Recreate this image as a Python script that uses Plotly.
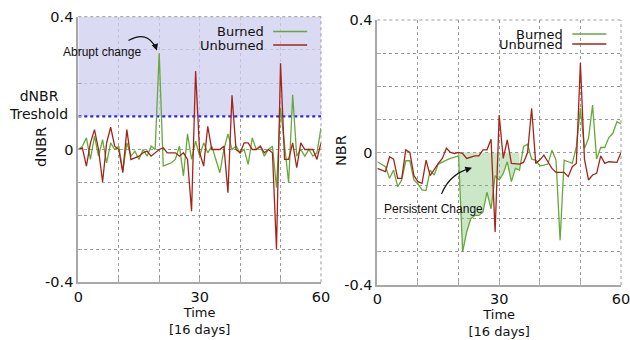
import plotly.graph_objects as go

time = list(range(61))

dnbr_burned = [0.0, 0.01, 0.035, -0.03, 0.04, -0.02, 0.03, -0.04, 0.02, 0.0,
               0.01, -0.065, 0.02, -0.02, -0.005, -0.03, 0.0, -0.02, 0.01, 0.0,
               0.29, -0.05, -0.045, -0.04, -0.03, 0.01, -0.08, 0.047, -0.03, 0.025,
               -0.02, 0.02, -0.01, 0.01, -0.03, -0.07, 0.0, 0.047, 0.0, 0.01,
               -0.01, 0.0, -0.045, 0.035, 0.0, 0.01, -0.02, 0.0, 0.01, -0.115,
               0.125, 0.01, -0.1, 0.165, -0.02, 0.0, -0.02, 0.0, -0.02, -0.01, 0.065]
dnbr_unburned = [0.0, 0.005, -0.05, 0.02, 0.06, 0.0, -0.098, 0.02, 0.067, 0.01,
                 0.0, -0.07, 0.06, -0.03, -0.025, -0.02, -0.01, -0.005, -0.02, -0.01,
                 0.0, 0.005, -0.01, -0.01, -0.01, -0.02, -0.01, -0.03, -0.186, 0.236,
                 -0.01, -0.05, 0.07, 0.0, 0.0, 0.0, 0.01, -0.13, 0.163, 0.0,
                 -0.01, 0.02, 0.02, 0.0, 0.0, 0.01, -0.01, 0.0, -0.01, -0.30,
                 0.26, -0.03, -0.03, 0.02, -0.055, 0.02, 0.0, 0.0, 0.0, -0.03, 0.02]

nbr_burned = [-0.028, -0.035, -0.043, -0.078, -0.053, -0.103, -0.083, -0.025, -0.025, -0.083,
              -0.095, -0.113, -0.115, -0.053, -0.068, -0.035, -0.028, -0.023, -0.018, -0.013,
              -0.01, -0.30, -0.24, -0.20, -0.19, -0.19, -0.18, -0.12, -0.17, -0.07,
              -0.083, -0.063, -0.028, -0.088, -0.048, -0.053, 0.018, 0.025, -0.02, -0.023,
              -0.04, -0.038, -0.035, 0.007, -0.023, -0.265, -0.023, -0.028, -0.033, 0.017,
              0.133, 0.012, 0.043, 0.143, -0.02, 0.015, 0.015, 0.045, 0.058, 0.093, 0.086]
nbr_unburned = [-0.048, -0.053, -0.058, -0.013, -0.02, -0.078, -0.078, 0.008, 0.0, -0.07,
                -0.088, -0.093, -0.023, -0.07, -0.05, -0.033, -0.018, 0.013, 0.0, -0.003,
                0.0, -0.003, -0.018, -0.013, -0.01, -0.01, 0.008, 0.008, 0.04, -0.24,
                0.113, -0.018, 0.038, -0.033, -0.033, -0.035, -0.03, 0.0, 0.133, -0.033,
                -0.023, -0.008, -0.028, -0.048, -0.06, -0.06, -0.06, -0.073, -0.043, -0.033,
                0.27, -0.02, -0.083, -0.068, -0.063, -0.01, -0.033, -0.028, -0.028, -0.03, 0.0]

dnbr_threshold = 0.1
persist_start, persist_end = 20, 35

x_ticks = [0, 30, 60]
y_ticks = [-0.4, 0, 0.4]
y_tick_text = ["-0.4", "0", "0.4"]

GREEN = "#67a83c"
RED = "#a3241b"
GRID = "#9a9a9a"
FONT = "DejaVu Sans"

fig = go.Figure()

# threshold shaded area + line (left panel)
fig.add_trace(go.Scatter(x=[0, 60, 60, 0], y=[dnbr_threshold, dnbr_threshold, 0.4, 0.4],
                         fill="toself", fillcolor="rgba(205,205,238,0.75)", line=dict(width=0),
                         mode="lines", hoverinfo="skip", showlegend=False, xaxis="x", yaxis="y"))
fig.add_trace(go.Scatter(x=[0, 60], y=[dnbr_threshold, dnbr_threshold], mode="lines",
                         line=dict(color="#2a2af0", width=2.2, dash="dot"),
                         showlegend=False, xaxis="x", yaxis="y"))

# persistent change fill (right panel)
fx = time[persist_start:persist_end + 1]
fy = [min(v, 0) for v in nbr_burned[persist_start:persist_end + 1]]
fig.add_trace(go.Scatter(x=[persist_start] + fx + [persist_end, persist_start],
                         y=[0] + fy + [0, 0],
                         fill="toself", fillcolor="rgba(120,190,110,0.38)", line=dict(width=0),
                         mode="lines", hoverinfo="skip", showlegend=False, xaxis="x2", yaxis="y2"))

for xa, ya, b, u in [("x", "y", dnbr_burned, dnbr_unburned), ("x2", "y2", nbr_burned, nbr_unburned)]:
    fig.add_trace(go.Scatter(x=time, y=b, mode="lines", line=dict(color=GREEN, width=1.3),
                             name="Burned", showlegend=False, xaxis=xa, yaxis=ya))
    fig.add_trace(go.Scatter(x=time, y=u, mode="lines", line=dict(color=RED, width=1.3),
                             name="Unburned", showlegend=False, xaxis=xa, yaxis=ya))

axis_common = dict(showgrid=True, gridcolor=GRID, griddash="dot", gridwidth=1,
                   zeroline=False, showline=True, linecolor="#a8a8a8", linewidth=2,
                   ticks="inside", ticklen=4, tickcolor="#a8a8a8", automargin=False,
                   ticklabeloverflow="allow",
                   tickfont=dict(family=FONT, size=14.5, color="#111"))

xdict = dict(axis_common, range=[0, 60], tickvals=list(range(0, 61, 10)),
             ticktext=[str(v) if v in x_ticks else "" for v in range(0, 61, 10)])
ydict = dict(axis_common, range=[-0.4, 0.4], tickvals=[round(-0.4 + 0.1 * i, 1) for i in range(9)],
             ticktext=[y_tick_text[y_ticks.index(v)] if v in y_ticks else ""
                       for v in [round(-0.4 + 0.1 * i, 1) for i in range(9)]])

fig.update_layout(
    width=630, height=340, margin=dict(l=0, r=0, t=0, b=0, autoexpand=False),
    paper_bgcolor="white", plot_bgcolor="white", showlegend=False,
    font=dict(family=FONT, color="#111"),
    xaxis=dict(xdict, domain=[0.1243, 0.5095], anchor="y",
               title=dict(text="Time<br>[16 days]", font=dict(size=13), standoff=2)),
    yaxis=dict(ydict, domain=[0.1697, 0.9509], anchor="x"),
    xaxis2=dict(xdict, domain=[0.599, 0.9857], anchor="y2",
                title=dict(text="Time<br>[16 days]", font=dict(size=13), standoff=2)),
    yaxis2=dict(ydict, domain=[0.1618, 0.9412], anchor="x2"),
)

# y-axis titles
for txt, px, py in [("dNBR", 41, 147), ("NBR", 341, 151)]:
    fig.add_annotation(x=px / 630, y=1 - py / 340, xref="paper", yref="paper", text=txt,
                       textangle=-90, showarrow=False, xanchor="center", yanchor="middle",
                       font=dict(family=FONT, size=14.5, color="#111"))

# frame on top / right as dotted
for xa, ya in [("x", "y"), ("x2", "y2")]:
    fig.add_shape(type="line", xref=f"{xa} domain", yref=f"{ya} domain", x0=0, x1=1, y0=1, y1=1,
                  line=dict(color=GRID, width=1, dash="dot"))
    fig.add_shape(type="line", xref=f"{xa} domain", yref=f"{ya} domain", x0=1, x1=1, y0=0, y1=1,
                  line=dict(color=GRID, width=1, dash="dot"))

# manual legends (text left of sample line)
legends = [("x", "y", 0.773, 0.944, 0.893), ("x2", "y2", 0.77, 0.947, 0.909)]
for xa, ya, xt, y1, y2 in legends:
    for label, col, yy in [("Burned", GREEN, y1), ("Unburned", RED, y2)]:
        fig.add_annotation(x=xt, y=yy, xref=f"{xa} domain", yref=f"{ya} domain", text=label,
                           showarrow=False, xanchor="right", yanchor="middle",
                           font=dict(family=FONT, size=13, color="#111"))
        fig.add_shape(type="line", xref=f"{xa} domain", yref=f"{ya} domain",
                      x0=xt + 0.03, x1=xt + 0.17, y0=yy, y1=yy, line=dict(color=col, width=1.5))

# threshold label
fig.add_annotation(x=38 / 630, y=1 - 105 / 340, xref="paper", yref="paper",
                   text="dNBR<br>Treshold", showarrow=False, xanchor="center", yanchor="middle",
                   font=dict(family=FONT, size=14, color="#111"))

# Abrupt change annotation with curved arrow
fig.add_annotation(x=5.9, y=0.295, xref="x", yref="y", text="Abrupt change", showarrow=False,
                   xanchor="center", yanchor="middle",
                   font=dict(family="Liberation Sans", size=12, color="#111"))
fig.add_shape(type="path", xref="x", yref="y", path="M 12.4,0.328 Q 17.0,0.36 19.2,0.305",
              line=dict(color="#111", width=1.2))
fig.add_annotation(x=19.4, y=0.298, ax=19.0, ay=0.314, xref="x", yref="y", axref="x", ayref="y",
                   text="", showarrow=True, arrowhead=2, arrowsize=1.1, arrowwidth=1.2,
                   arrowcolor="#111")

# Persistent change annotation with curved arrow
fig.add_annotation(x=13.7, y=-0.172, xref="x2", yref="y2", text="Persistent Change", showarrow=False,
                   xanchor="center", yanchor="middle",
                   font=dict(family="Liberation Sans", size=12, color="#111"))
fig.add_shape(type="path", xref="x2", yref="y2", path="M 15.8,-0.125 Q 17.8,-0.065 22.8,-0.048",
              line=dict(color="#111", width=1.2))
fig.add_annotation(x=23.3, y=-0.046, ax=22.3, ay=-0.05, xref="x2", yref="y2", axref="x2", ayref="y2",
                   text="", showarrow=True, arrowhead=2, arrowsize=1.1, arrowwidth=1.2,
                   arrowcolor="#111")

fig.write_html("out.html", config={"displayModeBar": False},
               post_script="document.body.style.margin='0';document.body.style.overflow='hidden';")
